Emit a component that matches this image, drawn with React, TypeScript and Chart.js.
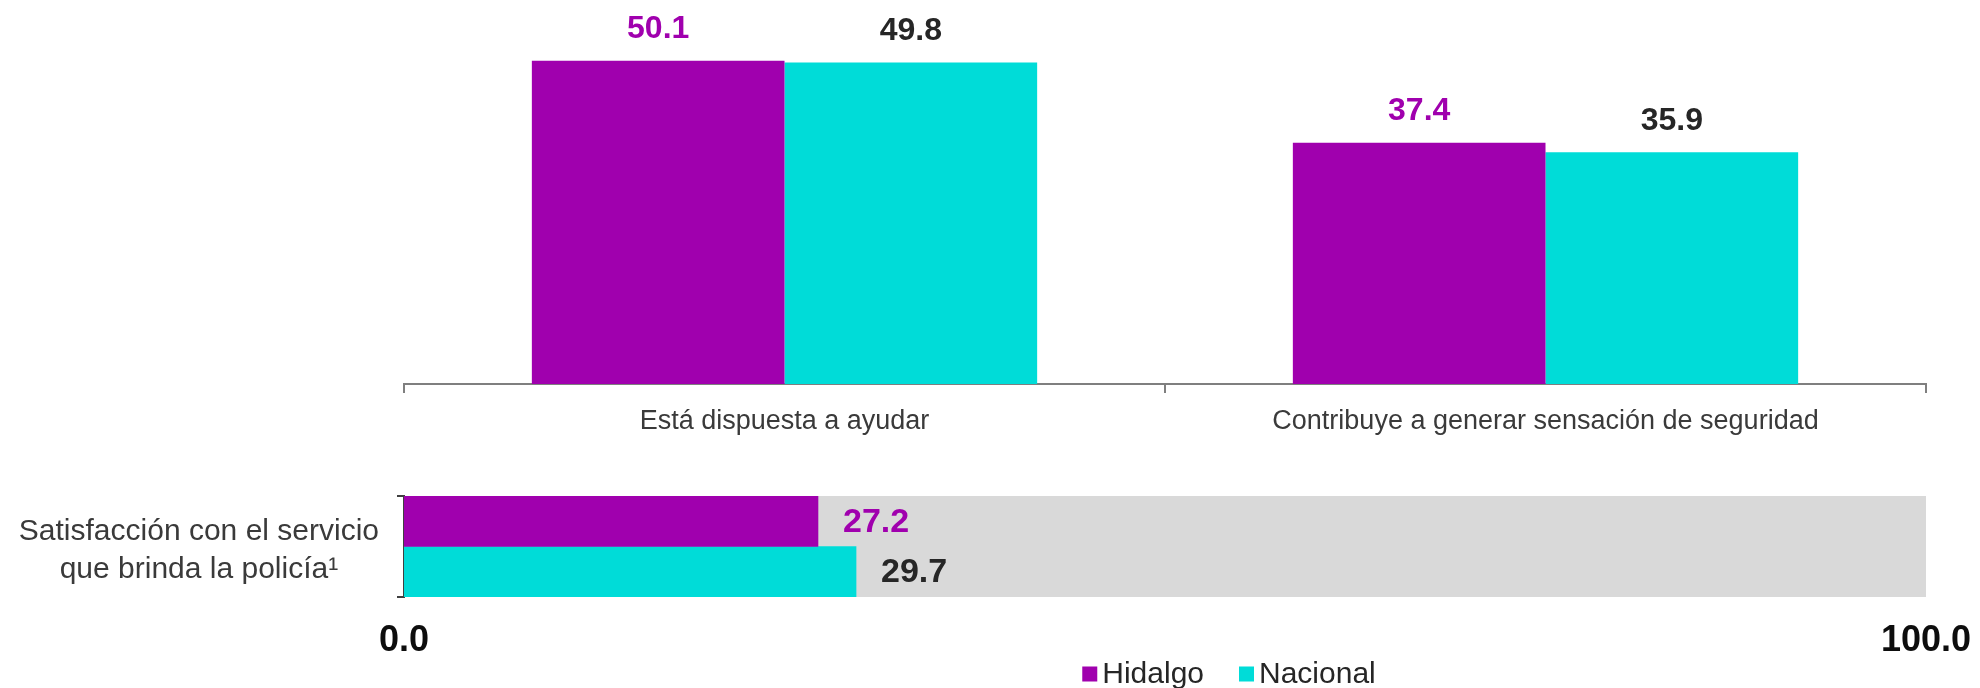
import React, { useEffect, useRef } from "react";
import { Chart, registerables } from "chart.js";

Chart.register(...registerables);

// ---- data ----
const TOP_CATEGORIES = ["Está dispuesta a ayudar", "Contribuye a generar sensación de seguridad"];
const TOP_HIDALGO = [50.1, 37.4];
const TOP_NACIONAL = [49.8, 35.9];
const BOTTOM_CATEGORIES = [["Satisfacción con el servicio", "que brinda la policía¹"]];
const BOTTOM_HIDALGO = [27.2];
const BOTTOM_NACIONAL = [29.7];
const BOTTOM_TOTAL = [100];
const BOTTOM_X_TICKS = [0, 100];
const SERIES_NAMES = ["Hidalgo", "Nacional"];

// ---- styles ----
const PURPLE = "#A000AE";
const TEAL = "#00DCD8";
const GRAY = "#D9D9D9";
const DARK = "#262626";
const LABEL_GRAY = "#3a3a3a";
const FONT = "'Liberation Sans', Arial, sans-serif";
const VALUE_COLORS = [PURPLE, DARK];

const topValueLabels = {
  id: "topValueLabels",
  afterDatasetsDraw(chart: any) {
    const ctx = chart.ctx;
    ctx.save();
    ctx.font = `bold 32px ${FONT}`;
    ctx.textAlign = "center";
    ctx.textBaseline = "middle";
    chart.data.datasets.forEach((ds: any, di: number) => {
      const meta = chart.getDatasetMeta(di);
      meta.data.forEach((bar: any, i: number) => {
        ctx.fillStyle = VALUE_COLORS[di];
        ctx.fillText(Number(ds.data[i]).toFixed(1), bar.x, bar.y - 31);
      });
    });
    ctx.restore();
  },
};

const bottomValueLabels = {
  id: "bottomValueLabels",
  afterDatasetsDraw(chart: any) {
    const ctx = chart.ctx;
    ctx.save();
    ctx.font = `bold 34px ${FONT}`;
    ctx.textAlign = "left";
    ctx.textBaseline = "middle";
    chart.data.datasets.forEach((ds: any, di: number) => {
      if (di > 1) return;
      const meta = chart.getDatasetMeta(di);
      meta.data.forEach((bar: any, i: number) => {
        ctx.fillStyle = VALUE_COLORS[di];
        ctx.fillText(Number(ds.data[i]).toFixed(1), bar.x + 25, bar.y + 1);
      });
    });
    ctx.restore();
  },
};

const customLegend = {
  id: "customLegend",
  afterDraw(chart: any) {
    const ctx = chart.ctx;
    ctx.save();
    ctx.font = `30px ${FONT}`;
    ctx.textBaseline = "middle";
    const box = 15;
    const gapBoxText = 5;
    const gapItems = 35;
    const items = SERIES_NAMES.map((name, i) => ({
      name,
      color: chart.data.datasets[i].backgroundColor,
      w: box + gapBoxText + ctx.measureText(name).width,
    }));
    const total = items.reduce((s, it) => s + it.w, 0) + gapItems * (items.length - 1);
    const centerX = 1229;
    const cy = chart.height - 14;
    let x = centerX - total / 2;
    items.forEach((it) => {
      ctx.fillStyle = it.color;
      ctx.fillRect(x, cy - box / 2, box, box);
      ctx.fillStyle = DARK;
      ctx.textAlign = "left";
      ctx.fillText(it.name, x + box + gapBoxText, cy + 1);
      x += it.w + gapItems;
    });
    ctx.restore();
  },
};

export default function App() {
  const topRef = useRef<HTMLCanvasElement>(null);
  const bottomRef = useRef<HTMLCanvasElement>(null);

  useEffect(() => {
    const top = new Chart(topRef.current as HTMLCanvasElement, {
      type: "bar",
      data: {
        labels: TOP_CATEGORIES,
        datasets: [
          {
            label: SERIES_NAMES[0],
            data: TOP_HIDALGO,
            backgroundColor: PURPLE,
            categoryPercentage: 0.664,
            barPercentage: 1,
          },
          {
            label: SERIES_NAMES[1],
            data: TOP_NACIONAL,
            backgroundColor: TEAL,
            categoryPercentage: 0.664,
            barPercentage: 1,
          },
        ],
      },
      options: {
        animation: false,
        responsive: false,
        maintainAspectRatio: false,
        layout: { padding: { left: 404, right: 54, top: 0, bottom: 0 } },
        plugins: { legend: { display: false }, tooltip: { enabled: false } },
        scales: {
          x: {
            grid: {
              offset: true,
              drawOnChartArea: false,
              drawTicks: true,
              tickLength: 9,
              color: "#7f7f7f",
              lineWidth: 2,
            },
            border: { display: true, color: "#7f7f7f", width: 2 },
            ticks: {
              font: { family: FONT, size: 27 },
              color: LABEL_GRAY,
              padding: 12,
              maxRotation: 0,
              autoSkip: false,
            },
            afterFit: (s: any) => {
              s.height = 56;
              s.paddingLeft = 0;
              s.paddingRight = 0;
            },
          },
          y: { display: false, min: 0, max: 59.5 },
        },
      },
      plugins: [topValueLabels],
    } as any);

    const bottom = new Chart(bottomRef.current as HTMLCanvasElement, {
      type: "bar",
      data: {
        labels: BOTTOM_CATEGORIES as any,
        datasets: [
          {
            label: SERIES_NAMES[0],
            data: BOTTOM_HIDALGO,
            backgroundColor: PURPLE,
            categoryPercentage: 1,
            barPercentage: 1,
            order: 1,
          },
          {
            label: SERIES_NAMES[1],
            data: BOTTOM_NACIONAL,
            backgroundColor: TEAL,
            categoryPercentage: 1,
            barPercentage: 1,
            order: 1,
          },
          {
            label: "Total",
            data: BOTTOM_TOTAL,
            backgroundColor: GRAY,
            categoryPercentage: 1,
            barPercentage: 1,
            grouped: false,
            order: 2,
          },
        ],
      },
      options: {
        indexAxis: "y",
        animation: false,
        responsive: false,
        maintainAspectRatio: false,
        layout: { padding: { left: 0, right: 54, top: 16, bottom: 0 } },
        plugins: { legend: { display: false }, tooltip: { enabled: false } },
        scales: {
          x: {
            min: 0,
            max: 100,
            grid: { display: false, drawTicks: false },
            border: { display: false },
            afterBuildTicks: (axis: any) => {
              axis.ticks = BOTTOM_X_TICKS.map((v) => ({ value: v }));
            },
            ticks: {
              font: { family: FONT, size: 36, weight: "bold" },
              color: "#0d0d0d",
              padding: 22,
              maxRotation: 0,
              autoSkip: false,
              callback: (v: any) => Number(v).toFixed(1),
            },
            afterFit: (s: any) => {
              s.height = 91;
              s.paddingLeft = 0;
              s.paddingRight = 0;
            },
          },
          y: {
            grid: {
              offset: true,
              drawOnChartArea: false,
              drawTicks: true,
              tickLength: 7,
              color: "#404040",
              lineWidth: 2,
            },
            border: { display: true, color: "#404040", width: 2 },
            ticks: {
              font: { family: FONT, size: 30, lineHeight: 1.26 },
              color: LABEL_GRAY,
              crossAlign: "center",
              padding: 18,
              labelOffset: 4,
            },
            afterFit: (s: any) => {
              s.width = 404;
              s.paddingTop = 0;
              s.paddingBottom = 0;
            },
          },
        },
      },
      plugins: [bottomValueLabels, customLegend],
    } as any);

    return () => {
      top.destroy();
      bottom.destroy();
    };
  }, []);

  return (
    <div
      style={{
        position: "absolute",
        left: 0,
        top: 0,
        width: 1980,
        height: 688,
        background: "#fff",
        overflow: "hidden",
      }}
    >
      <canvas
        ref={topRef}
        width={1980}
        height={440}
        style={{ position: "absolute", left: 0, top: 0, width: 1980, height: 440 }}
      />
      <canvas
        ref={bottomRef}
        width={1980}
        height={208}
        style={{ position: "absolute", left: 0, top: 480, width: 1980, height: 208 }}
      />
    </div>
  );
}
